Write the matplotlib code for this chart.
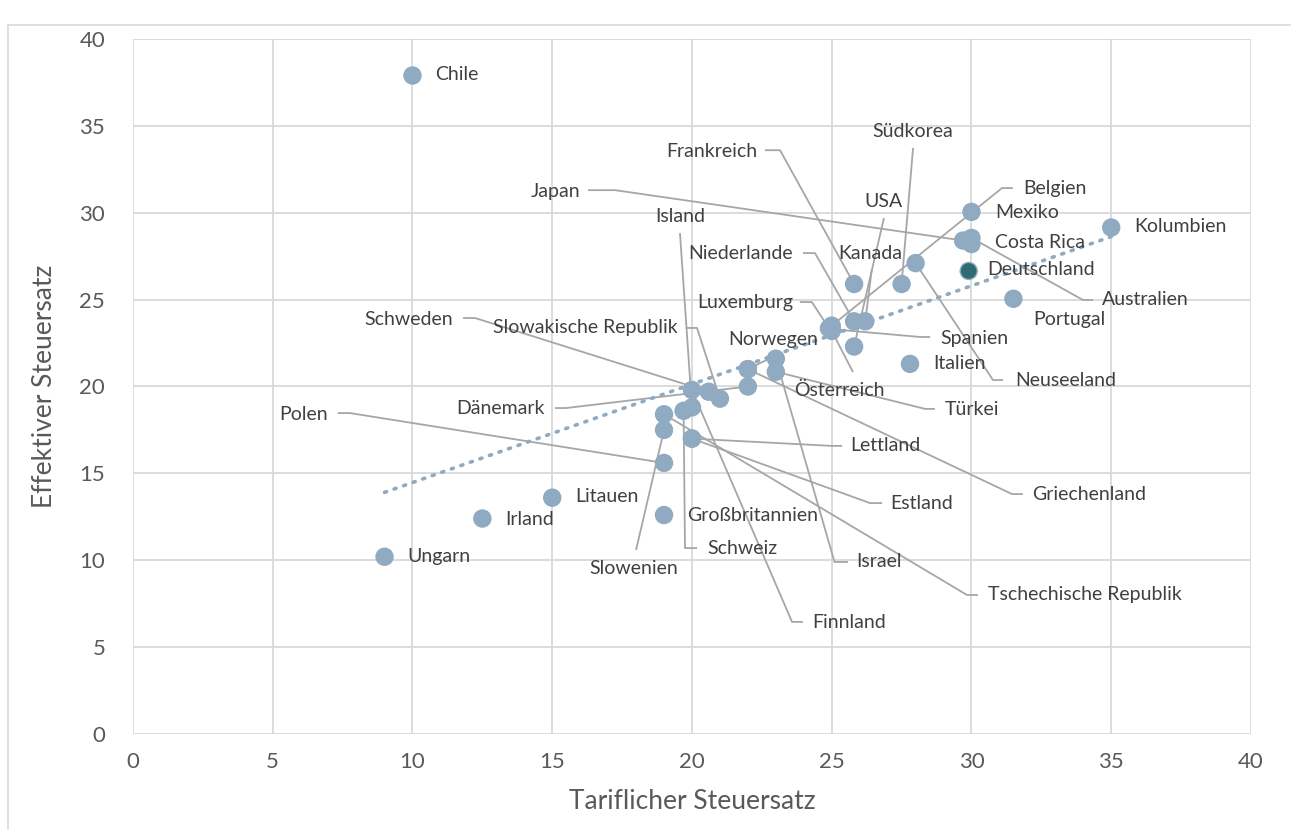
import numpy as np
import matplotlib
matplotlib.use("Agg")
import matplotlib.pyplot as plt

plt.rcParams['font.family'] = ['Lato', 'DejaVu Sans']

# Daten: tariflicher und effektiver Steuersatz
laender = ['Chile', 'Ungarn', 'Irland', 'Litauen', 'Großbritannien', 'Polen', 'Slowenien',
           'Tschechische Republik', 'Schweiz', 'Island', 'Finnland', 'Estland', 'Lettland',
           'Schweden', 'Slowakische Republik', 'Dänemark', 'Norwegen', 'Griechenland',
           'Israel', 'Türkei', 'Belgien', 'Spanien', 'Österreich', 'Luxemburg',
           'Frankreich', 'Niederlande', 'USA', 'Kanada', 'Südkorea', 'Italien', 'Neuseeland',
           'Japan', 'Australien', 'Costa Rica', 'Mexiko', 'Deutschland', 'Portugal', 'Kolumbien']
tariflich = [10.0, 9.0, 12.5, 15.0, 19.0, 19.0, 19.0,
             19.0, 19.7, 20.0, 20.0, 20.0, 20.0,
             20.6, 21.0, 22.0, 22.0, 22.0,
             23.0, 23.0, 25.0, 25.0, 25.0, 24.9,
             25.8, 25.8, 25.8, 26.2, 27.5, 27.8, 28.0,
             29.7, 30.0, 30.0, 30.0, 29.9, 31.5, 35.0]
effektiv = [37.9, 10.2, 12.4, 13.6, 12.6, 15.6, 17.5,
            18.4, 18.6, 18.8, 19.8, 17.0, 17.0,
            19.7, 19.3, 20.0, 21.0, 21.0,
            21.6, 20.85, 23.5, 23.3, 23.2, 23.35,
            25.9, 23.75, 22.3, 23.75, 25.9, 21.3, 27.1,
            28.4, 28.55, 28.2, 30.05, 26.65, 25.05, 29.15]
hervorgehoben = 'Deutschland'

# Beschriftungen: (x, y, ha, Führungslinie ab Label)
beschriftung = {
    'Chile': (10.8, 37.93, 'left', None),
    'Ungarn': (9.8, 10.19, 'left', None),
    'Irland': (13.31, 12.37, 'left', None),
    'Litauen': (15.81, 13.64, 'left', None),
    'Großbritannien': (19.82, 12.6, 'left', None),
    'Kolumbien': (35.81, 29.18, 'left', None),
    'Mexiko': (30.84, 30.04, 'left', None),
    'Costa Rica': (30.84, 28.26, 'left', None),
    'Deutschland': (30.55, 26.71, 'left', None),
    'Portugal': (32.2, 23.83, 'left', None),
    'Italien': (28.62, 21.35, 'left', None),
    'Frankreich': (22.33, 33.55, 'right', [(22.61, 33.6), (23.15, 33.6)]),
    'Japan': (15.99, 31.25, 'right', [(16.28, 31.3), (17.25, 31.3)]),
    'Island': (19.57, 29.81, 'center', [(19.57, 28.83)]),
    'Niederlande': (23.61, 27.63, 'right', [(23.97, 27.68), (24.40, 27.68)]),
    'Luxemburg': (23.61, 24.86, 'right', [(23.86, 24.86), (24.29, 24.86)]),
    'Schweden': (11.45, 23.83, 'right', [(11.81, 23.94), (12.24, 23.94)]),
    'Slowakische Republik': (19.5, 23.37, 'right', [(19.78, 23.37), (20.18, 23.37)]),
    'Polen': (6.98, 18.36, 'right', [(7.33, 18.47), (7.76, 18.47)]),
    'Dänemark': (14.74, 18.71, 'right', [(15.1, 18.76), (15.49, 18.76)]),
    'Norwegen': (22.9, 22.68, 'center', [(22.97, 21.76)]),
    'Österreich': (25.26, 19.8, 'center', [(25.76, 20.83)]),
    'Spanien': (28.87, 22.79, 'left', [(28.52, 22.85), (28.16, 22.85)]),
    'Türkei': (29.05, 18.65, 'left', [(28.69, 18.71), (28.34, 18.71)]),
    'Lettland': (25.65, 16.58, 'left', [(25.37, 16.58), (25.01, 16.58)]),
    'Estland': (27.08, 13.24, 'left', [(26.8, 13.29), (26.37, 13.29)]),
    'Griechenland': (32.16, 13.76, 'left', [(31.84, 13.81), (31.45, 13.81)]),
    'Israel': (25.87, 9.9, 'left', [(25.58, 9.9), (25.1, 9.9)]),
    'Tschechische Republik': (30.59, 8.0, 'left', [(30.23, 8.0), (29.84, 8.0)]),
    'Finnland': (24.29, 6.39, 'left', [(23.97, 6.45), (23.58, 6.45)]),
    'Schweiz': (20.54, 10.7, 'left', [(20.18, 10.7), (19.75, 10.7)]),
    'Slowenien': (17.92, 9.55, 'center', [(18.0, 10.59)]),
    'Südkorea': (27.91, 34.65, 'center', [(27.91, 33.73)]),
    'USA': (26.87, 30.62, 'center', [(26.87, 29.7)]),
    'Kanada': (26.37, 27.68, 'center', [(26.43, 26.7)]),
    'Belgien': (31.84, 31.42, 'left', [(31.48, 31.42), (31.09, 31.42)]),
    'Neuseeland': (31.56, 20.32, 'left', [(31.13, 20.37), (30.77, 20.37)]),
    'Australien': (34.67, 24.98, 'left', [(34.35, 24.98), (33.99, 24.98)]),
}

punkt_farbe = '#8FAAC1'
hervor_farbe = '#2E6B72'
linien_farbe = '#A6A6A6'
text_farbe = '#404040'
achsen_farbe = '#595959'

fig = plt.figure(figsize=(12.91, 8.30), dpi=100)
ax = fig.add_axes([0.103, 0.1157, 0.866, 0.8373])

x = np.array(tariflich)
y = np.array(effektiv)

# Führungslinien zuerst
for name, xi, yi in zip(laender, tariflich, effektiv):
    tx, ty, ha, leader = beschriftung[name]
    if leader is not None:
        pts = leader + [(xi, yi)]
        ax.plot([p[0] for p in pts], [p[1] for p in pts], color=linien_farbe, lw=1.3,
                zorder=2, solid_capstyle='butt')

# Trendlinie (linear)
m, b = np.polyfit(x, y, 1)
xt = np.array([x.min(), x.max()])
ax.plot(xt, m * xt + b, color=punkt_farbe, lw=2.6, ls=(0, (0.6, 2.2)),
        dash_capstyle='round', zorder=3)

farben = [hervor_farbe if n == hervorgehoben else punkt_farbe for n in laender]
ax.scatter(x, y, s=150, c=farben, edgecolors=punkt_farbe, linewidths=1.0, zorder=4)

for name in laender:
    tx, ty, ha, leader = beschriftung[name]
    ax.text(tx, ty, name, ha=ha, va='center', fontsize=14, color=text_farbe, zorder=5)

ax.set_xlim(0, 40)
ax.set_ylim(0, 40)
ax.set_xticks(np.arange(0, 41, 5))
ax.set_yticks(np.arange(0, 41, 5))
ax.grid(True, color='#D9D9D9', lw=1.3)
ax.set_axisbelow(True)
for s in ax.spines.values():
    s.set_visible(False)
ax.tick_params(length=0, labelsize=16, labelcolor=achsen_farbe)
ax.tick_params(axis='y', pad=20)
ax.tick_params(axis='x', pad=13)
ax.set_xlabel('Tariflicher Steuersatz', fontsize=19, color=achsen_farbe, labelpad=12)
ax.set_ylabel('Effektiver Steuersatz', fontsize=19, color=achsen_farbe, labelpad=16)

# Rahmen des Diagrammbereichs
fig.add_artist(plt.Line2D([8 / 1291, 8 / 1291], [0, 1 - 25 / 830], color='#D9D9D9', lw=1.2))
fig.add_artist(plt.Line2D([8 / 1291, 1], [1 - 25 / 830, 1 - 25 / 830], color='#D9D9D9', lw=1.2))

fig.savefig('out.png', dpi=100)
